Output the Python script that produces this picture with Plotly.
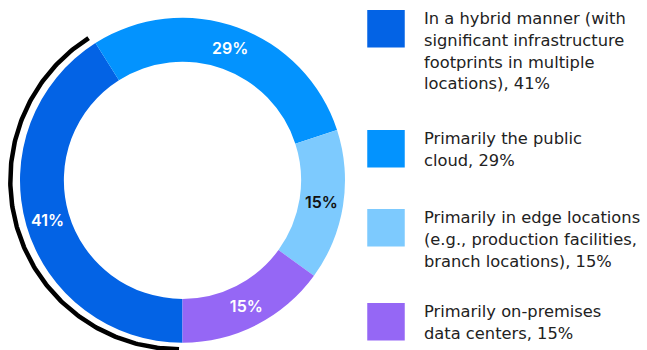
import numpy as np
import plotly.graph_objects as go

# ---- data ----
category_lines = [
    ["In a hybrid manner (with", "significant infrastructure", "footprints in multiple", "locations), 41%"],
    ["Primarily the public", "cloud, 29%"],
    ["Primarily in edge locations", "(e.g., production facilities,", "branch locations), 15%"],
    ["Primarily on-premises", "data centers, 15%"],
]
values = [41, 29, 15, 15]
colors = ["#0363E5", "#0393FE", "#7DCAFE", "#9567F5"]
label_colors = ["white", "white", "#111111", "white"]

W, H = 647, 350
fig = go.Figure()

# donut
cx, cy, R = 182.5, 180.3, 162.5
fig.add_trace(go.Pie(
    values=values,
    labels=[" ".join(ls) for ls in category_lines],
    marker=dict(colors=colors, line=dict(width=0)),
    hole=0.73,
    sort=False,
    direction="clockwise",
    rotation=180,
    texttemplate="%{value}%",
    textposition="inside",
    insidetextorientation="horizontal",
    textfont=dict(color=label_colors, size=16, family="Inter", weight=600),
    domain=dict(x=[(cx - R) / W, (cx + R) / W],
                y=[(H - cy - R) / H, (H - cy + R) / H]),
    showlegend=False,
    hoverinfo="skip",
))

# black arc around the first slice
acx, acy, ar = 179.0, 180.5, 168.7
sweep = values[0] / sum(values) * 360.0
theta = np.radians(np.linspace(180.0, 180.0 + sweep, 200))
fig.add_trace(go.Scatter(
    x=acx + ar * np.sin(theta), y=acy - ar * np.cos(theta),
    mode="lines", line=dict(color="black", width=4.5),
    showlegend=False, hoverinfo="skip",
))

# custom legend
sq_x = 386
sq_tops = [10, 130, 209, 303]
sq = 37.5
fig.add_trace(go.Scatter(
    x=[sq_x] * len(values), y=[t + sq / 2 for t in sq_tops],
    mode="markers",
    marker=dict(symbol="square", size=sq, color=colors, line=dict(width=0)),
    showlegend=False, hoverinfo="skip",
))
line_gap = 21.7
for t, lines in zip(sq_tops, category_lines):
    for i, ln in enumerate(lines):
        fig.add_annotation(
            x=422, y=t + 8.7 + i * line_gap, xref="x", yref="y", text=ln,
            showarrow=False, xanchor="left", yanchor="middle", align="left",
            font=dict(family="DejaVu Sans", size=16.3, color="#222222"),
        )

fig.update_layout(
    width=W, height=H,
    margin=dict(l=0, r=0, t=0, b=0),
    paper_bgcolor="white", plot_bgcolor="rgba(0,0,0,0)",
    xaxis=dict(range=[0, W], visible=False, fixedrange=True),
    yaxis=dict(range=[H, 0], visible=False, fixedrange=True),
)

fig.write_html("out.html", config={"displayModeBar": False},
               post_script="document.body.style.margin='0';document.body.style.padding='0';")
